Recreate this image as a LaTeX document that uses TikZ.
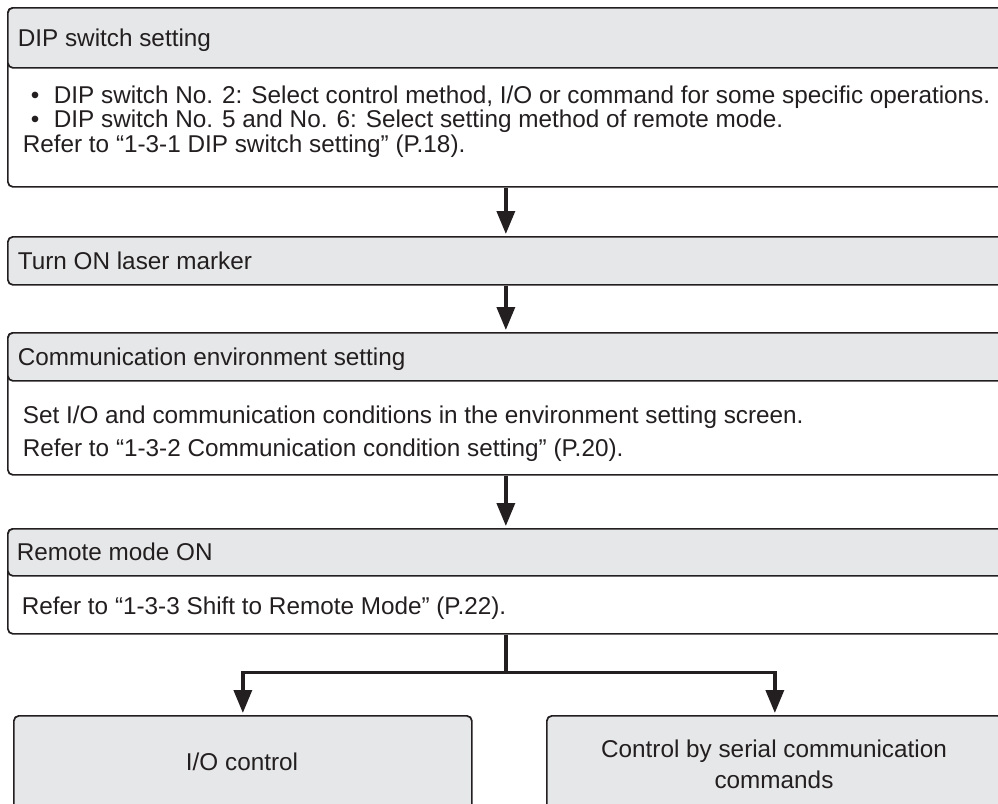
\documentclass[tikz,border=0pt]{standalone}
\usepackage{fontspec}
\setmainfont{Liberation Sans}
\usetikzlibrary{arrows.meta,positioning}
\definecolor{inkcol}{HTML}{231F20}
\definecolor{headgray}{HTML}{E6E7E8}
\tikzset{every picture/.style={line width=0.85pt}}
\tikzset{
  stepframe/.style={draw=inkcol, rounded corners=2.5pt, minimum width=498pt,
    inner sep=0pt, anchor=north west},
  stepbody/.style={stepframe, fill=white},
  stephead/.style={stepframe, fill=headgray},
  stepend/.style={stephead, minimum height=47pt},
  steptext/.style={text=inkcol, font=\fontsize{12.15}{12.25}\selectfont,
    inner sep=0pt, anchor=base west},
  flow/.style={draw=inkcol, line width=1.75pt,
    -{Triangle[width=9pt,length=11.5pt]}, shorten >=1pt},
  trunk/.style={draw=inkcol, line width=1.75pt},
}

\begin{document}
\begin{tikzpicture}[x=0.5pt,y=-0.5pt]
\useasboundingbox (0,0) rectangle (998,804);
\clip (0,0) rectangle (998,804);
% step 1
\node[stepbody, minimum height=89.5pt] (dip) at (7,7) {};
\node[stephead, minimum height=30pt] (diphead) at (7,7) {};
\node[steptext] (diptitle) at (17,46) {DIP switch setting};
\node[steptext] (dipone) at (30,103)
  {\makebox[11.5pt][l]{•}DIP switch No. 2: Select control method, I/O or command for some specific operations.};
\node[steptext] (diptwo) at (30,127.5)
  {\makebox[11.5pt][l]{•}DIP switch No. 5 and No. 6: Select setting method of remote mode.};
\node[steptext] (dipref) at (22,152) {Refer to “1-3-1 DIP switch setting” (P.18).};
% step 2
\node[stephead, minimum height=24pt] (laser) at (7,236) {};
\node[steptext] (lasertitle) at (17,269) {Turn ON laser marker};
% step 3
\node[stepbody, minimum height=71pt] (comm) at (7,332) {};
\node[stephead, minimum height=24pt] (commhead) at (7,332) {};
\node[steptext] (commtitle) at (17,365) {Communication environment setting};
\node[steptext] (commone) at (22,423)
  {Set I/O and communication conditions in the environment setting screen.};
\node[steptext] (commref) at (22,456) {Refer to “1-3-2 Communication condition setting” (P.20).};
% step 4
\node[stepbody, minimum height=52.5pt] (remote) at (7,528) {};
\node[stephead, minimum height=23.5pt] (remotehead) at (7,528) {};
\node[steptext] (remotetitle) at (16,560) {Remote mode ON};
\node[steptext] (remoteref) at (21,614) {Refer to “1-3-3 Shift to Remote Mode” (P.22).};
% the two ways
\node[stepend, minimum width=229pt] (io) at (13,715) {};
\node[stepend, minimum width=228pt] (serial) at (546,715) {};
\node[steptext, anchor=base] (iotext) at (242,770) {I/O control};
\node[steptext, anchor=base] (serialone) at (774,757) {Control by serial communication};
\node[steptext, anchor=base] (serialtwo) at (774,788) {commands};
% arrows
\draw[flow] (dip.south) -- (laser.north);
\draw[flow] (laser.south) -- (comm.north);
\draw[flow] (comm.south) -- (remote.north);
\coordinate (hub) at ([yshift=-19pt]remote.south);
\draw[trunk] (remote.south) -- (hub);
\draw[flow] (hub) -| (io.north);
\draw[flow] (hub) -| (serial.north);
\end{tikzpicture}
\end{document}
